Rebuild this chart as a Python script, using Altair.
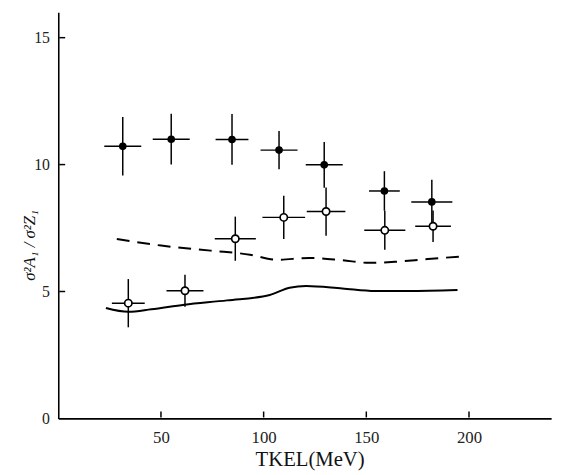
import altair as alt
import pandas as pd

# filled circles
filled_x = [31.4, 55.0, 84.6, 107.5, 129.5, 158.8, 181.9]
filled_y = [10.72, 11.0, 10.99, 10.57, 9.99, 8.96, 8.53]
filled_yerr = [1.15, 1.0, 1.0, 0.75, 0.9, 0.78, 0.87]
filled_xerr = [9.0, 9.0, 8.0, 9.0, 9.0, 7.5, 10.0]

# open circles
open_x = [34.1, 61.7, 86.2, 109.8, 130.4, 159.0, 182.5]
open_y = [4.54, 5.03, 7.08, 7.92, 8.15, 7.41, 7.57]
open_yerr = [0.95, 0.63, 0.87, 0.85, 0.95, 0.77, 0.62]
open_xerr = [8.0, 9.0, 10.0, 10.4, 9.4, 10.0, 8.7]

# dashed curve
dash_x = [28.5, 50.1, 74.2, 93.4, 106.3, 122.3, 138.3, 151.1, 164.0, 180.0, 196.8]
dash_y = [7.07, 6.81, 6.61, 6.45, 6.25, 6.32, 6.23, 6.13, 6.17, 6.28, 6.38]

# solid curve
solid_x = [23.2, 34.1, 45.3, 61.4, 82.2, 103.0, 112.6, 120.7, 138.3, 154.3, 170.4, 194.4]
solid_y = [4.35, 4.2, 4.3, 4.48, 4.65, 4.86, 5.15, 5.22, 5.12, 5.02, 5.02, 5.06]

x_ticks = [50, 100, 150, 200]
y_ticks = [0, 5, 10, 15]
y_inner_ticks = [5, 10, 15]

FONT = "Liberation Serif"

def pts(xs, ys, yerr, xerr):
    return pd.DataFrame({
        "x": xs, "y": ys,
        "ylo": [a - b for a, b in zip(ys, yerr)],
        "yhi": [a + b for a, b in zip(ys, yerr)],
        "xlo": [a - b for a, b in zip(xs, xerr)],
        "xhi": [a + b for a, b in zip(xs, xerr)],
    })

df_f = pts(filled_x, filled_y, filled_yerr, filled_xerr)
df_o = pts(open_x, open_y, open_yerr, open_xerr)
df_d = pd.DataFrame({"x": dash_x, "y": dash_y})
df_s = pd.DataFrame({"x": solid_x, "y": solid_y})

xs = alt.Scale(domain=[0, 240], nice=False, zero=False)
ys = alt.Scale(domain=[0, 16], nice=False, zero=False)

X = alt.X("x:Q", scale=xs, axis=alt.Axis(
    values=x_ticks, ticks=False, grid=False, domainColor="black", domainWidth=1.6,
    labelFont=FONT, labelFontSize=17, labelColor="#222", labelPadding=11,
    title="TKEL(MeV)", titleFont=FONT, titleFontSize=21, titleFontWeight="normal",
    titleColor="#111", titleBaseline="alphabetic", titleY=48, titleX=255))
Y = alt.Y("y:Q", scale=ys, axis=alt.Axis(
    values=y_ticks, ticks=False, grid=False, domainColor="black", domainWidth=1.6,
    labelFont=FONT, labelFontSize=16, labelColor="#222", labelPadding=9,
    title="σ²A₁ / σ²Z₁", titleFont=FONT, titleFontSize=17, titleFontWeight="normal",
    titleFontStyle="italic", titleColor="#111", titleAngle=270, titleX=-29, titleY=236,
    titleAlign="center", titleBaseline="middle"))

base_x = alt.X("x:Q", scale=xs)
base_y = alt.Y("y:Q", scale=ys)

dashed = alt.Chart(df_d).mark_line(color="black", strokeWidth=2, strokeDash=[13, 8],
                                   interpolate="monotone").encode(x=X, y=Y)
solid = alt.Chart(df_s).mark_line(color="black", strokeWidth=2,
                                  interpolate="monotone").encode(x=base_x, y=base_y)

def errbars(df):
    v = alt.Chart(df).mark_rule(color="black", strokeWidth=1.5).encode(
        x=base_x, y=alt.Y("ylo:Q", scale=ys), y2="yhi:Q")
    h = alt.Chart(df).mark_rule(color="black", strokeWidth=1.5).encode(
        x=alt.X("xlo:Q", scale=xs), x2="xhi:Q", y=base_y)
    return v + h

f_pts = alt.Chart(df_f).mark_point(filled=True, color="black", size=60, opacity=1,
                                   shape="circle").encode(x=base_x, y=base_y)
o_pts = alt.Chart(df_o).mark_point(filled=True, fill="white", stroke="black",
                                   strokeWidth=1.7, size=55, opacity=1,
                                   shape="circle").encode(x=base_x, y=base_y)

xt = alt.Chart(pd.DataFrame({"x": x_ticks})).mark_rule(color="black", strokeWidth=1.5).encode(
    x=base_x, y=alt.value(411), y2=alt.value(405))
yt = alt.Chart(pd.DataFrame({"y": y_inner_ticks})).mark_rule(color="black", strokeWidth=1.5).encode(
    y=base_y, x=alt.value(1), x2=alt.value(7))

chart = (dashed + solid + errbars(df_f) + errbars(df_o) + f_pts + o_pts + xt + yt).properties(
    width=500, height=412,
    autosize=alt.AutoSizeParams(type="none"),
    padding={"left": 51, "top": 1, "right": 10, "bottom": 50},
    background="white",
).configure_view(stroke=None)

chart.save("out.html", embed_options={"renderer": "svg", "actions": False})
